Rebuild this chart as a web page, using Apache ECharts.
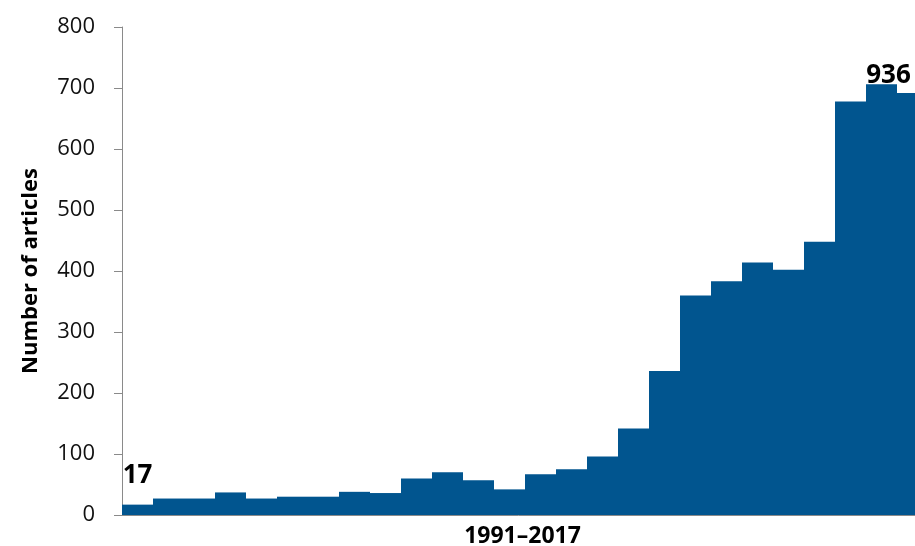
<!DOCTYPE html>
<html>
<head>
<meta charset="utf-8">
<script src="https://cdn.jsdelivr.net/npm/echarts@6/dist/echarts.min.js"></script>
<style>
html,body{margin:0;padding:0;background:#fff;}
#chart{width:915px;height:546px;}
</style>
</head>
<body>
<div id="chart"></div>
<script>
// Years 1991–2017 (visible portion of the chart, right edge is cropped)
var years = ['1991','1992','1993','1994','1995','1996','1997','1998','1999','2000',
             '2001','2002','2003','2004','2005','2006','2007','2008','2009','2010',
             '2011','2012','2013','2014','2015','2016'];
var articles = [17, 27, 27, 37, 27, 30, 30, 38, 36, 60,
                70, 57, 42, 67, 75, 96, 142, 236, 360, 383,
                414, 402, 448, 678, 706, 692];
// Annotated labels: [category index, text]
var annotations = [[0, '17'], [24, '936']];
var yTicks = [0, 100, 200, 300, 400, 500, 600, 700, 800];

var annMap = {};
annotations.forEach(function (a) { annMap[a[0]] = a[1]; });

var seriesData = articles.map(function (v, i) {
  var item = { value: v };
  if (annMap[i] !== undefined) {
    item.label = {
      show: true,
      position: 'top',
      formatter: annMap[i],
      distance: i === 0 ? 16 : -4,
      offset: i === 0 ? [0, 0] : [7, 0]
    };
  }
  return item;
});

var chart = echarts.init(document.getElementById('chart'), null, { renderer: 'canvas' });
chart.setOption({
  animation: false,
  backgroundColor: '#ffffff',
  grid: { left: 122, top: 27, bottom: 31, width: 806, containLabel: false, outerBoundsMode: 'none' },
  xAxis: {
    type: 'category',
    data: years,
    boundaryGap: true,
    name: '1991–2017',
    nameLocation: 'middle',
    nameGap: 10,
    nameTextStyle: {
      fontFamily: 'Open Sans', fontWeight: 'bold', fontSize: 23, color: '#000',
      verticalAlign: 'top', padding: [0, 5, 0, 0]
    },
    axisLine: { show: true, lineStyle: { color: '#8a8a8a', width: 1 } },
    axisTick: { show: false },
    axisLabel: { show: false },
    splitLine: { show: false }
  },
  yAxis: {
    type: 'value',
    min: yTicks[0],
    max: yTicks[yTicks.length - 1],
    interval: 100,
    name: 'Number of articles',
    nameLocation: 'middle',
    nameGap: 80,
    nameRotate: 90,
    nameTextStyle: {
      fontFamily: 'Open Sans', fontWeight: 'bold', fontSize: 22, color: '#000'
    },
    axisLine: { show: true, lineStyle: { color: '#8a8a8a', width: 1 } },
    axisTick: { show: true, length: 8, lineStyle: { color: '#8a8a8a' } },
    axisLabel: {
      margin: 27,
      fontFamily: 'Open Sans', fontSize: 22, color: '#111'
    },
    splitLine: { show: false }
  },
  series: [{
    type: 'bar',
    data: seriesData,
    barCategoryGap: 0,
    barGap: 0,
    itemStyle: { color: '#01558F' },
    label: {
      show: false,
      fontFamily: 'Open Sans', fontWeight: 'bold', fontSize: 26, color: '#000'
    }
  }]
});
</script>
</body>
</html>
